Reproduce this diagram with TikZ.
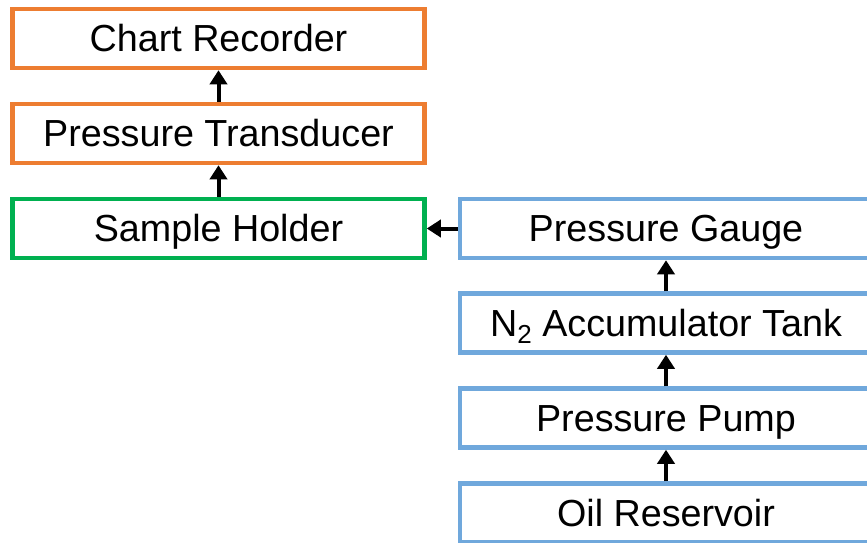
\documentclass[tikz,border=0pt]{standalone}
\usepackage{fontspec}
\setmainfont{Liberation Sans}
\usetikzlibrary{arrows.meta}
\definecolor{boxorange}{HTML}{ED7D31}
\definecolor{boxgreen}{HTML}{00B050}
\definecolor{boxblue}{HTML}{70A8DC}
\newcommand{\subtwo}{\raisebox{-7pt}{\fontsize{26}{26}\selectfont 2}}
\tikzset{
  unit/.style={draw, rectangle, line width=4.5pt, minimum width=412pt,
    minimum height=59pt, inner sep=0pt, fill=white,
    text height=26pt, text depth=0pt,
    font=\fontsize{37.7}{40}\selectfont},
  flow/.style={line width=4pt, -{Triangle[width=17pt,length=14pt]}}
}
\begin{document}
\begin{tikzpicture}[x=1pt, y=-1pt]
  \useasboundingbox (0,0) rectangle (867,542);
  % measurement chain
  \node[unit, draw=boxorange] (chart) at (218.5,38.5) {Chart Recorder};
  \node[unit, draw=boxorange] (trans) at (218.5,133.5) {Pressure Transducer};
  \node[unit, draw=boxgreen]  (sample) at (218.5,228.5) {Sample Holder};
  % pressurising chain
  \node[unit, draw=boxblue] (gauge) at (666,228.5) {Pressure Gauge};
  \node[unit, draw=boxblue] (accum) at (666,323) {N\subtwo{} Accumulator Tank};
  \node[unit, draw=boxblue] (pump)  at (666,418) {Pressure Pump};
  \node[unit, draw=boxblue] (oil)   at (666,513) {Oil Reservoir};
  % connections
  \draw[flow] (trans.north) -- (chart.south);
  \draw[flow] (sample.north) -- (trans.south);
  \draw[flow] (gauge.west) -- (sample.east);
  \draw[flow] (accum.north) -- (gauge.south);
  \draw[flow] (pump.north) -- (accum.south);
  \draw[flow] (oil.north) -- (pump.south);
\end{tikzpicture}
\end{document}
